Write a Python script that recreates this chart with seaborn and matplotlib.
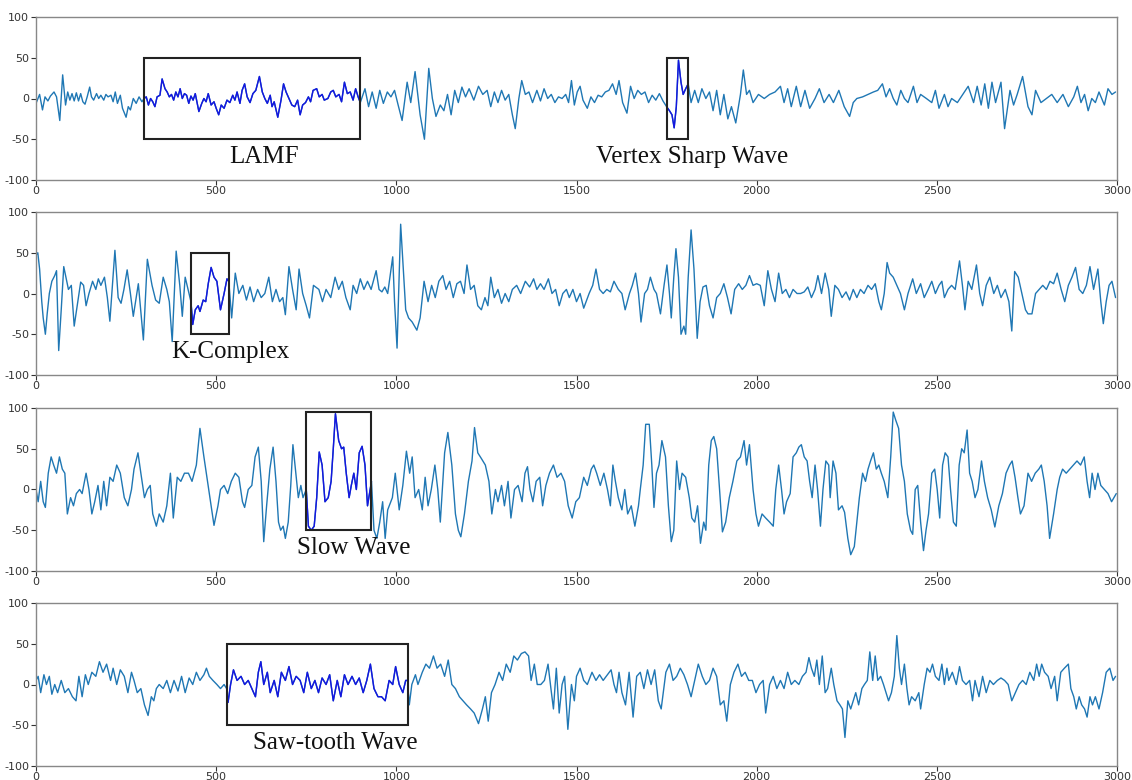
import matplotlib
matplotlib.use("Agg")
import matplotlib.pyplot as plt
from matplotlib.patches import Rectangle
import pandas as pd
import seaborn as sns

# EEG traces as (sample, amplitude) turning points
p1 = [(0, -6), (10, 5), (18, -14), (25, 2), (33, -3), (40, 3), (50, 8), (57, 2), (66, -27), (74, 29),
      (82, -8), (88, 8), (94, -2), (100, 6), (106, -3), (112, 7), (118, -3), (124, 6), (130, -4), (136, -7),
      (142, 2), (149, 14), (154, 2), (160, -2), (168, 6), (174, 0), (180, 4), (188, -2), (194, 5), (200, 2),
      (208, 4), (214, -4), (220, 8), (226, -6), (234, 4), (240, -12), (250, -23), (256, -10), (262, -14), (270, 0),
      (278, -6), (286, 2), (294, -4), (300, 0), (306, 2), (312, -8), (318, 0), (324, -4), (330, -10), (336, 2),
      (344, 4), (350, 24), (358, 12), (364, 8), (370, 2), (376, 5), (382, -2), (388, 8), (394, 2), (400, 12),
      (406, 0), (412, 6), (418, 4), (424, -6), (430, 3), (436, -2), (442, 6), (452, -16), (460, -6), (466, 0),
      (472, -4), (478, 6), (486, -8), (494, -4), (500, -12), (507, -20), (514, -8), (522, -12), (530, -2), (538, -5),
      (546, 4), (552, -2), (558, 8), (566, -6), (572, 10), (579, 18), (586, 2), (594, -5), (602, 6), (610, 10),
      (620, 27), (628, 8), (635, 0), (642, -6), (650, 4), (655, -10), (661, -4), (671, -23), (680, -2), (687, 18),
      (694, 8), (702, 0), (710, -8), (718, -10), (726, -2), (733, -20), (740, -8), (748, -5), (756, 2), (762, -4),
      (769, 10), (779, 12), (786, 2), (794, 5), (800, -2), (810, 0), (818, 8), (825, 10), (832, 2), (841, 5),
      (848, -4), (856, 20), (864, 6), (872, 8), (880, -2), (887, 12), (894, 2), (900, -5), (913, 12), (923, -10),
      (933, 8), (944, -12), (954, 10), (964, -6), (975, 8), (985, 2), (995, 10), (1005, -8), (1016, -27), (1030, 20),
      (1040, -5), (1052, 33), (1066, -20), (1078, -50), (1090, 37), (1100, 0), (1110, -22), (1122, -8), (1132, -15), (1142, 5),
      (1152, -20), (1162, 10), (1172, -5), (1182, 14), (1192, 2), (1202, 12), (1215, -2), (1228, 15), (1240, 5), (1252, 10),
      (1262, -10), (1272, 8), (1282, -5), (1292, 10), (1302, -2), (1312, 5), (1322, -20), (1330, -37), (1340, 0), (1348, 22),
      (1358, 5), (1368, 8), (1378, -5), (1390, 10), (1400, -3), (1410, 12), (1420, 0), (1430, 5), (1440, -5), (1450, 2),
      (1460, 0), (1470, 5), (1478, -5), (1486, 22), (1494, -8), (1502, 8), (1510, 15), (1518, -2), (1530, -12), (1540, 2),
      (1550, -5), (1560, 4), (1570, 2), (1580, 8), (1590, 10), (1600, 18), (1610, 5), (1618, 22), (1628, -5), (1640, -18),
      (1650, 15), (1660, 0), (1670, 10), (1680, 5), (1690, 8), (1700, -5), (1710, 4), (1720, -2), (1730, 6), (1740, -3),
      (1750, -10), (1758, -15), (1765, -20), (1771, -36), (1777, -10), (1783, 47), (1790, 20), (1796, 5), (1803, 12), (1810, 18),
      (1818, -5), (1828, 10), (1838, -5), (1848, 12), (1859, 0), (1869, 8), (1879, -15), (1889, 10), (1899, -20), (1909, 5),
      (1920, -25), (1930, -10), (1942, -30), (1955, 5), (1963, 35), (1972, 5), (1980, 10), (1990, -5), (2005, 5), (2021, 0),
      (2036, 5), (2051, 8), (2066, 15), (2076, -5), (2086, 12), (2096, -10), (2110, 15), (2122, -10), (2134, 10), (2147, -12),
      (2162, 0), (2174, 12), (2187, -5), (2201, 5), (2213, -5), (2228, 10), (2243, -10), (2258, -22), (2268, -5), (2278, 0),
      (2294, 2), (2309, 5), (2324, 8), (2336, 10), (2349, 18), (2359, 2), (2369, 12), (2379, 0), (2389, -8), (2400, 10),
      (2410, 0), (2420, -5), (2435, 15), (2445, -5), (2455, 5), (2471, 0), (2486, -5), (2496, 10), (2506, -12), (2521, 5),
      (2531, -10), (2541, 0), (2557, -5), (2572, 5), (2587, 15), (2602, -5), (2612, 15), (2623, -8), (2633, 18), (2643, -12),
      (2653, 20), (2663, -5), (2678, 20), (2688, -37), (2703, 10), (2713, -8), (2723, 5), (2738, 27), (2753, -10), (2764, -20),
      (2774, 10), (2789, -5), (2804, 0), (2819, 5), (2834, -5), (2850, 5), (2865, -10), (2880, 2), (2890, 15), (2900, -5),
      (2910, 5), (2920, -15), (2930, 0), (2940, -5), (2950, 8), (2965, -8), (2975, 12), (2986, 5), (2996, 8)]

p2 = [(0, 47), (5, 50), (10, 30), (16, -10), (20, -30), (26, -50), (31, -25), (37, 0), (44, 15), (52, 22),
      (57, 28), (63, -70), (70, -20), (77, 33), (83, 20), (90, 5), (98, 10), (106, -40), (116, -10), (124, 14),
      (132, 10), (139, -15), (147, 0), (157, 15), (166, 5), (173, 18), (180, 10), (190, 20), (198, -5), (205, -34),
      (219, 53), (228, -5), (236, -12), (244, 5), (253, 29), (262, 0), (270, -28), (284, 12), (298, -57), (309, 42),
      (322, 10), (332, -8), (342, -12), (353, 20), (363, 5), (370, -10), (378, -59), (389, 52), (399, 10), (406, -28),
      (414, 20), (422, 5), (430, -10), (435, -38), (442, -20), (450, -15), (455, -22), (464, -8), (471, -10), (478, 12),
      (486, 32), (494, 20), (502, 15), (512, -20), (522, 0), (530, 18), (535, 15), (543, -30), (553, 25), (563, 0),
      (574, 10), (584, -8), (594, 8), (604, -10), (615, 5), (625, -5), (635, 0), (646, 20), (656, -10), (666, 5),
      (676, -10), (685, -5), (692, -26), (702, 33), (712, 5), (722, -20), (730, 30), (740, 0), (750, -15), (759, -30),
      (770, 10), (785, 5), (795, -10), (805, 5), (818, -5), (830, 20), (840, 5), (850, 15), (860, -5), (872, -20),
      (880, 10), (890, 0), (900, 18), (910, 5), (920, 15), (930, 5), (944, 28), (952, 5), (960, 2), (968, 8),
      (976, 0), (990, 45), (995, -10), (1002, -67), (1012, 85), (1018, 40), (1026, -20), (1034, -30), (1044, -35), (1057, -45),
      (1066, -30), (1077, 15), (1088, -10), (1098, 10), (1108, -5), (1118, 15), (1129, 22), (1138, 5), (1148, 15), (1158, -5),
      (1168, 12), (1178, 15), (1188, 0), (1196, 35), (1206, 5), (1216, 10), (1226, -15), (1236, -20), (1246, -5), (1254, -15),
      (1262, 20), (1272, -5), (1282, 5), (1292, -12), (1302, 0), (1312, -10), (1322, 5), (1334, 10), (1345, 0), (1358, 15),
      (1370, 8), (1381, 18), (1390, 5), (1400, 12), (1410, 5), (1422, 18), (1432, 0), (1442, 5), (1452, -15), (1462, 0),
      (1472, 5), (1480, -5), (1490, 5), (1500, -10), (1510, 0), (1520, -18), (1535, 0), (1545, 10), (1554, 30), (1564, 5),
      (1574, 0), (1584, 5), (1594, 2), (1604, 15), (1616, 5), (1626, 0), (1635, -20), (1647, 0), (1655, 10), (1664, 25),
      (1672, 0), (1679, -35), (1689, 0), (1697, 5), (1705, 20), (1715, 5), (1722, 0), (1733, -25), (1743, 10), (1751, 35),
      (1758, 0), (1763, -30), (1770, 20), (1776, 55), (1783, 20), (1790, -50), (1798, -40), (1803, -50), (1810, 20), (1818, 78),
      (1826, 30), (1835, -55), (1843, -10), (1851, 8), (1860, 10), (1869, -15), (1879, -30), (1889, -5), (1899, 0), (1909, 12),
      (1919, -5), (1929, -25), (1939, 5), (1950, 12), (1960, 5), (1970, 10), (1980, 22), (1990, 10), (2000, 12), (2010, 10),
      (2021, -15), (2031, 28), (2041, 5), (2051, -10), (2061, 25), (2071, 0), (2081, 5), (2091, -5), (2101, 5), (2112, 0),
      (2122, 0), (2132, 2), (2142, 8), (2152, -5), (2162, 5), (2170, 22), (2180, 0), (2190, 25), (2200, 5), (2207, -28),
      (2217, 10), (2227, 5), (2237, -5), (2248, 2), (2258, -8), (2268, 5), (2278, -5), (2288, 5), (2298, 0), (2309, 10),
      (2319, 5), (2329, 12), (2339, -10), (2346, -20), (2354, 0), (2362, 38), (2369, 25), (2379, 20), (2389, 10), (2399, 0),
      (2410, -20), (2420, 0), (2433, 18), (2443, 0), (2455, 12), (2465, -5), (2476, 5), (2486, 15), (2496, 0), (2506, 10),
      (2514, 15), (2521, -5), (2531, 5), (2541, 10), (2551, 5), (2563, 40), (2571, 10), (2578, -20), (2587, 15), (2597, 5),
      (2610, 35), (2619, 0), (2627, -15), (2637, 10), (2647, 20), (2658, 0), (2668, 10), (2678, -5), (2690, 5), (2700, -10),
      (2708, -46), (2716, 27), (2726, 20), (2736, 0), (2746, -20), (2753, -25), (2764, -25), (2774, 0), (2784, 5), (2794, 10),
      (2804, 5), (2814, 15), (2824, 12), (2834, 25), (2845, 5), (2855, -10), (2865, 10), (2875, 20), (2885, 32), (2895, 5),
      (2905, 0), (2915, 10), (2925, 33), (2935, 5), (2947, 30), (2955, -10), (2962, -37), (2970, -10), (2978, 10), (2986, 15),
      (2996, -5)]

p3 = [(0, 0), (6, -15), (13, 10), (20, -15), (26, -22), (34, 20), (42, 40), (49, 30), (57, 20), (65, 40),
      (73, 25), (80, 20), (87, -30), (96, -10), (104, -20), (112, -5), (121, 0), (128, -5), (139, 20), (147, 0),
      (155, -30), (163, -15), (172, 5), (180, -25), (188, 10), (196, -20), (205, 15), (214, 10), (224, 30), (234, 20),
      (245, -10), (255, -20), (265, 0), (272, 25), (283, 45), (291, 20), (301, -10), (309, 0), (317, 5), (324, -30),
      (334, -45), (342, -30), (353, -40), (363, -20), (373, 20), (381, -35), (392, 15), (402, 10), (412, 20), (423, 20),
      (433, 10), (445, 30), (455, 75), (466, 40), (476, 10), (486, -20), (494, -44), (505, -20), (512, 0), (522, 5),
      (532, -5), (542, 10), (553, 20), (563, 15), (573, -15), (579, -22), (589, 0), (599, 5), (608, 40), (617, 52),
      (625, 10), (632, -64), (640, -20), (649, 25), (658, 52), (666, 10), (673, -40), (679, -50), (686, -45), (692, -60),
      (700, -40), (707, 5), (713, 55), (721, 20), (728, -10), (735, 5), (741, -10), (750, 0), (756, -45), (764, -50),
      (772, -45), (779, -10), (786, 46), (794, 30), (802, -15), (811, -10), (819, 10), (825, 50), (831, 93), (840, 60),
      (848, 50), (854, 52), (861, 20), (869, -10), (875, 5), (882, 20), (889, 0), (897, 45), (905, 53), (913, 30),
      (920, -20), (931, 10), (938, -50), (946, -60), (954, -40), (962, -15), (969, -60), (976, -25), (989, -10), (997, 20),
      (1008, -25), (1018, 5), (1028, 47), (1037, 20), (1044, 40), (1052, -10), (1062, 0), (1072, -25), (1080, 15), (1088, -20),
      (1097, 0), (1107, 30), (1115, 0), (1122, -40), (1134, 45), (1143, 70), (1154, 30), (1164, -30), (1172, -50), (1179, -58),
      (1189, -30), (1200, 10), (1210, 35), (1217, 76), (1226, 45), (1236, 38), (1247, 30), (1257, 10), (1265, -30), (1275, 0),
      (1282, -15), (1292, 5), (1300, -20), (1310, 10), (1318, -35), (1328, 0), (1338, 5), (1349, -15), (1357, 20), (1364, 28),
      (1371, 0), (1379, -15), (1388, 10), (1398, 15), (1406, -20), (1415, 5), (1425, 20), (1436, 30), (1446, 15), (1457, 20),
      (1467, 10), (1477, -20), (1488, -35), (1498, -15), (1508, -10), (1520, 15), (1530, 5), (1541, 25), (1548, 30), (1556, 20),
      (1566, 5), (1576, 20), (1586, 0), (1594, -20), (1601, 30), (1608, 10), (1616, -10), (1626, -25), (1634, 0), (1642, -30),
      (1652, -20), (1662, -45), (1672, -20), (1677, 0), (1685, 30), (1692, 80), (1702, 80), (1709, 30), (1715, -22), (1722, 20),
      (1729, 30), (1737, 60), (1747, 40), (1755, -20), (1763, -64), (1770, -50), (1778, 35), (1786, 0), (1793, 20), (1803, 15),
      (1813, -10), (1820, -35), (1828, -40), (1836, -20), (1844, -66), (1853, -40), (1859, -50), (1867, 30), (1874, 60), (1881, 65),
      (1889, 50), (1897, 0), (1905, -52), (1914, -40), (1924, -10), (1934, 10), (1945, 35), (1955, 40), (1965, 60), (1972, 30),
      (1980, 55), (1990, 0), (1998, -30), (2005, -45), (2015, -30), (2025, -35), (2036, -40), (2046, -45), (2053, 0), (2061, 30),
      (2069, 0), (2076, -30), (2083, -15), (2093, -5), (2101, 40), (2110, 45), (2117, 52), (2124, 55), (2132, 40), (2140, 35),
      (2147, 10), (2154, -10), (2162, 30), (2169, 0), (2177, -45), (2184, 0), (2192, 35), (2200, 30), (2204, -10), (2212, 35),
      (2220, 20), (2227, -25), (2237, -20), (2244, -28), (2253, -60), (2261, -80), (2271, -70), (2278, -40), (2285, -10), (2294, 20),
      (2302, 10), (2309, 25), (2316, 35), (2324, 45), (2332, 25), (2339, 30), (2346, 20), (2354, 10), (2364, -10), (2372, 40),
      (2379, 95), (2386, 85), (2394, 75), (2402, 30), (2410, 10), (2418, -30), (2427, -50), (2433, -55), (2440, 0), (2447, 5),
      (2455, -40), (2463, -75), (2470, -50), (2477, -30), (2486, 20), (2494, 25), (2501, 0), (2508, -35), (2516, 30), (2523, 45),
      (2531, 40), (2538, 0), (2546, -40), (2554, -45), (2562, 30), (2569, 50), (2576, 45), (2584, 73), (2591, 20), (2598, 10),
      (2606, -10), (2614, 0), (2624, 35), (2632, 10), (2641, -10), (2651, -25), (2661, -46), (2672, -20), (2682, -5), (2692, 20),
      (2702, 30), (2709, 35), (2717, 15), (2725, -10), (2732, -30), (2742, -20), (2753, 20), (2763, 10), (2773, 20), (2783, 25),
      (2790, 30), (2798, 10), (2806, -20), (2813, -60), (2824, -30), (2834, 0), (2841, 15), (2849, 25), (2859, 20), (2869, 25),
      (2879, 30), (2889, 35), (2899, 30), (2909, 40), (2917, 10), (2924, -10), (2931, 20), (2939, 0), (2947, 20), (2955, 5),
      (2965, 0), (2975, -5), (2985, -15), (2998, -5)]

p4 = [(0, 5), (6, 10), (13, -10), (22, 12), (29, 0), (37, 10), (44, -12), (52, 0), (60, -10), (70, 5),
      (80, -10), (90, -5), (101, -15), (111, -20), (119, 10), (128, -15), (137, 12), (145, 0), (155, 15), (166, 10),
      (176, 28), (186, 15), (196, 25), (207, 5), (214, 20), (224, 0), (234, 18), (245, 10), (255, -10), (265, 15),
      (272, 5), (281, -10), (291, -5), (301, -25), (311, -38), (320, -15), (327, -20), (334, -5), (342, 0), (353, -5),
      (363, 5), (373, -10), (383, 5), (394, -8), (404, 10), (414, -10), (425, 8), (435, 0), (445, 15), (455, 5),
      (466, 12), (473, 20), (481, 10), (491, 5), (502, 0), (512, -5), (522, 0), (529, -5), (533, -22), (540, 0),
      (548, 18), (558, 5), (569, 10), (579, 0), (589, 5), (599, -5), (609, -15), (617, 15), (624, 28), (632, 0),
      (642, 15), (650, -10), (661, 5), (671, -15), (681, 15), (692, 5), (702, 22), (712, 0), (722, 10), (733, 5),
      (743, -10), (753, 15), (764, -5), (774, 5), (784, -10), (794, 8), (805, 0), (815, 12), (825, -20), (836, 5),
      (846, -15), (856, 12), (866, 0), (877, 10), (887, 0), (897, 8), (908, -10), (918, 5), (928, 25), (938, -5),
      (949, -15), (959, -15), (969, -20), (980, 5), (990, 0), (998, 22), (1008, 0), (1018, -10), (1026, 5), (1031, 5),
      (1036, -25), (1043, 0), (1053, 12), (1060, 0), (1072, 15), (1082, 25), (1092, 20), (1103, 35), (1113, 20), (1123, 25),
      (1134, 10), (1144, 30), (1154, 0), (1164, -5), (1175, -15), (1185, -20), (1195, -25), (1206, -30), (1216, -35), (1228, -48),
      (1239, -30), (1247, -15), (1255, -45), (1264, -10), (1274, 0), (1285, 15), (1295, 5), (1305, 25), (1316, 15), (1326, 35),
      (1336, 30), (1347, 38), (1357, 40), (1367, 35), (1374, 5), (1383, 25), (1391, 0), (1401, 0), (1411, 5), (1421, 25),
      (1429, -5), (1436, -30), (1444, 20), (1452, -35), (1460, 0), (1467, 10), (1476, -55), (1486, 0), (1494, -20), (1500, 10),
      (1510, 20), (1520, 5), (1530, 0), (1543, 15), (1554, 5), (1564, 12), (1574, 5), (1586, 12), (1596, 18), (1604, 0),
      (1611, -10), (1618, 15), (1626, -10), (1636, -25), (1646, 15), (1657, -40), (1667, 10), (1677, 15), (1687, -5), (1697, 18),
      (1707, 0), (1717, 18), (1727, -20), (1735, -30), (1748, 15), (1758, 25), (1768, 5), (1778, 10), (1788, 20), (1798, 12),
      (1808, 0), (1818, -15), (1828, 5), (1838, 25), (1849, 10), (1859, 0), (1869, 5), (1879, 20), (1889, 10), (1899, -25),
      (1909, -20), (1917, -45), (1927, 0), (1937, 15), (1948, 25), (1958, 10), (1968, 15), (1978, 5), (1988, 5), (1998, -10),
      (2008, 0), (2018, 5), (2025, -35), (2036, 0), (2046, 10), (2056, -5), (2066, 5), (2076, -5), (2086, 15), (2096, 0),
      (2106, 5), (2117, 0), (2127, 10), (2137, 15), (2145, 33), (2152, 20), (2160, 10), (2167, 30), (2174, 0), (2182, 35),
      (2190, -10), (2197, -5), (2207, 20), (2214, 0), (2223, -20), (2231, -25), (2238, -30), (2245, -65), (2253, -20), (2261, -30),
      (2268, -20), (2275, -10), (2283, -25), (2292, -5), (2299, 0), (2307, 5), (2314, 40), (2322, 5), (2329, 35), (2336, 5),
      (2344, 10), (2352, 0), (2359, -10), (2366, -20), (2374, -10), (2382, 10), (2389, 60), (2396, 20), (2402, 0), (2410, 25),
      (2417, -5), (2423, -25), (2430, -15), (2440, -20), (2450, -10), (2455, -30), (2465, 0), (2473, 20), (2481, 15), (2488, 25),
      (2496, 10), (2506, 5), (2514, 25), (2521, 0), (2528, 20), (2533, 5), (2543, 15), (2554, 0), (2563, 22), (2571, 5),
      (2581, 0), (2591, 5), (2599, -20), (2606, 5), (2617, -15), (2627, 10), (2637, -10), (2647, 5), (2657, 0), (2668, 5),
      (2678, 8), (2688, 5), (2698, 0), (2708, -20), (2718, -10), (2728, 0), (2738, 5), (2748, 0), (2758, 15), (2769, 5),
      (2777, 25), (2784, 10), (2791, 25), (2799, 15), (2809, 10), (2817, -5), (2827, 10), (2834, -20), (2844, 15), (2854, 20),
      (2865, 25), (2872, -5), (2880, -15), (2887, -30), (2895, -15), (2902, -25), (2910, -30), (2917, -40), (2925, -15), (2932, -25),
      (2940, -15), (2950, -30), (2960, -10), (2970, 15), (2980, 20), (2989, 5), (2996, 10)]

traces = [p1, p2, p3, p4]

# marked events per panel: (start, end, low, high, label, label centre)
events = [
    [(300, 900, -50, 50, "LAMF", 633), (1750, 1810, -50, 50, "Vertex Sharp Wave", 1820)],
    [(430, 535, -50, 50, "K-Complex", 540)],
    [(750, 931, -50, 95, "Slow Wave", 882)],
    [(529, 1031, -50, 50, "Saw-tooth Wave", 830)],
]

sns.set_style("white")
plt.rcParams["axes.unicode_minus"] = False

W, H = 1132, 780
fig = plt.figure(figsize=(W / 100, H / 100), dpi=100)
tops = [17, 212, 408, 603]

for top, trace, marks in zip(tops, traces, events):
    ax = fig.add_axes([36 / W, 1 - (top + 163) / H, 1081 / W, 163 / H])
    df = pd.DataFrame(trace, columns=["sample", "amp"])
    sns.lineplot(data=df, x="sample", y="amp", ax=ax, color="#1f77b4",
                 linewidth=1.0, estimator=None)
    for x0, x1, y0, y1, label, lx in marks:
        seg = df[(df["sample"] >= x0) & (df["sample"] <= x1)]
        sns.lineplot(data=seg, x="sample", y="amp", ax=ax, color="#1515e0",
                     linewidth=1.0, estimator=None)
        ax.add_patch(Rectangle((x0, y0), x1 - x0, y1 - y0, fill=False,
                               edgecolor="#222222", linewidth=1.5, zorder=3))
        ax.text(lx, -72, label, ha="center", va="center",
                family="Liberation Serif", fontsize=18, color="#111111")
    ax.set_xlim(0, 3000)
    ax.set_ylim(-100, 100)
    ax.set_xticks(range(0, 3001, 500))
    ax.set_yticks([-100, -50, 0, 50, 100])
    ax.set_xlabel("")
    ax.set_ylabel("")
    ax.tick_params(labelsize=8, colors="#333333", pad=1.5,
                   bottom=True, left=True, length=3.5, width=0.8)
    ax.tick_params(axis="x", pad=0.5)
    for s in ax.spines.values():
        s.set_color("#888888")
        s.set_linewidth(1.0)

fig.savefig("out.png", dpi=100)
